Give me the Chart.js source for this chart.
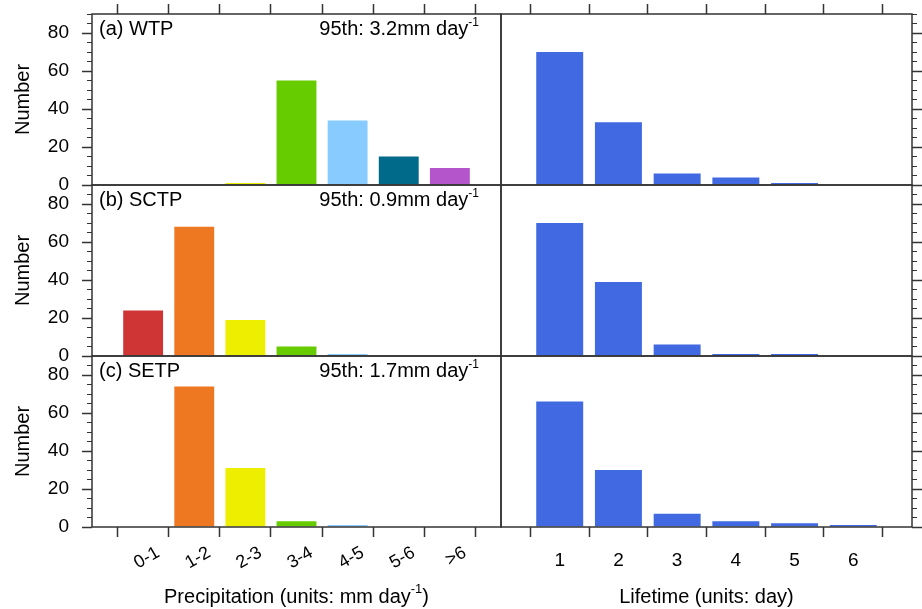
<!DOCTYPE html>
<html>
<head>
<meta charset="utf-8">
<title>Precipitation and lifetime</title>
<script src="https://cdn.jsdelivr.net/npm/chart.js@4.4.0/dist/chart.umd.min.js"></script>
<style>
  body { margin: 0; background: #fff; }
  #wrap { position: relative; width: 922px; height: 609px; }
  #wrap canvas { position: absolute; left: 0; top: 0; }
</style>
</head>
<body>
<div id="wrap">
  <canvas id="p00" width="922" height="609"></canvas>
  <canvas id="p01" width="922" height="609"></canvas>
  <canvas id="p10" width="922" height="609"></canvas>
  <canvas id="p11" width="922" height="609"></canvas>
  <canvas id="p20" width="922" height="609"></canvas>
  <canvas id="p21" width="922" height="609"></canvas>
</div>
<script>
// categories
const precipCats = ['0-1', '1-2', '2-3', '3-4', '4-5', '5-6', '>6'];
const lifeCats = ['1', '2', '3', '4', '5', '6'];
const regions = ['(a) WTP', '(b) SCTP', '(c) SETP'];
const p95 = ['3.2', '0.9', '1.7'];

// counts per precipitation class
const wtpPrecip = [0, 0, 1, 55, 34, 15, 9];
const sctpPrecip = [24, 68, 19, 5, 1, 0, 0];
const setpPrecip = [0, 74, 31, 3, 1, 0, 0];

// counts per lifetime (days)
const wtpLife = [70, 33, 6, 4, 1, 0];
const sctpLife = [70, 39, 6, 1, 1, 0];
const setpLife = [66, 30, 7, 3, 2, 1];

const precipColors = ['#d03535', '#ee7722', '#eeee00', '#66cc00', '#88ccff', '#006a8a', '#b455cc'];
const lifeColor = '#4169e1';

const precipData = [wtpPrecip, sctpPrecip, setpPrecip];
const lifeData = [wtpLife, sctpLife, setpLife];

const W = 922, H = 609;
const colEdges = [92, 501, 912];
const rowEdges = [14, 185, 356, 527];
const axisColor = '#333';
const fam = '"Liberation Sans", Arial, Helvetica, sans-serif';

Chart.defaults.font.family = fam;
Chart.defaults.color = '#000';

function fixSize(size, horizontal) {
  return function (scale) {
    if (horizontal) scale.height = size; else scale.width = size;
    scale.paddingTop = 0;
    scale.paddingBottom = 0;
    scale.paddingLeft = 0;
    scale.paddingRight = 0;
  };
}

// text with a raised "-1" part
function drawRich(ctx, parts, x, y, align, size, supSize, raise) {
  let total = 0;
  parts.forEach(p => {
    ctx.font = (p.sup ? supSize : size) + 'px ' + fam;
    p.w = ctx.measureText(p.text).width;
    total += p.w;
  });
  let cx = align === 'right' ? x - total : align === 'center' ? x - total / 2 : x;
  ctx.textAlign = 'left';
  ctx.textBaseline = 'alphabetic';
  parts.forEach(p => {
    ctx.font = (p.sup ? supSize : size) + 'px ' + fam;
    ctx.fillText(p.text, cx, p.sup ? y - raise : y);
    cx += p.w;
  });
}

const framePlugin = {
  id: 'frame',
  afterDraw(chart) {
    const a = chart.chartArea, ctx = chart.ctx;
    ctx.save();
    ctx.strokeStyle = axisColor;
    ctx.lineWidth = 1.5;
    ctx.strokeRect(a.left, a.top, a.right - a.left, a.bottom - a.top);
    ctx.restore();
  }
};

function textPlugin(row, col) {
  return {
    id: 'panelText',
    afterDraw(chart) {
      const a = chart.chartArea, ctx = chart.ctx;
      ctx.save();
      ctx.fillStyle = '#000';
      if (col === 0) {
        drawRich(ctx, [{text: regions[row]}], a.left + 7, a.top + 21, 'left', 20, 12, 9);
        drawRich(ctx, [{text: '95th: ' + p95[row] + 'mm day'}, {text: '-1', sup: true}],
          a.right - 22, a.top + 21, 'right', 20, 12, 9);
      }
      if (row === 2) {
        const cx = (a.left + a.right) / 2;
        if (col === 0) {
          drawRich(ctx, [{text: 'Precipitation (units: mm day'}, {text: '-1', sup: true}, {text: ')'}],
            cx, 603, 'center', 20, 13, 10);
        } else {
          drawRich(ctx, [{text: 'Lifetime (units: day)'}], cx, 603, 'center', 20, 13, 10);
        }
      }
      ctx.restore();
    }
  };
}

function makePanel(row, col) {
  const isPrecip = col === 0;
  const cats = isPrecip ? precipCats : lifeCats;
  const vals = isPrecip ? precipData[row] : lifeData[row];
  const n = cats.length;
  const labels = [''].concat(cats, ['']);
  const data = [null].concat(vals, [null]);
  const colors = isPrecip ? [null].concat(precipColors, [null]) : lifeColor;

  const keepInner = s => { s.ticks = s.ticks.filter(t => t.value >= 1 && t.value <= n); };

  let xTicks = {display: false};
  if (row === 2) {
    xTicks = isPrecip
      ? {autoSkip: false, minRotation: 30, maxRotation: 30, labelOffset: 15, padding: 5, font: {size: 18}, color: '#000'}
      : {autoSkip: false, maxRotation: 0, padding: 12, font: {size: 19}, color: '#000'};
  }
  const xSize = row === 0 ? 10 : row === 2 ? 82 : 0;

  const side = isPrecip ? 'left' : 'right';
  const scales = {
    x: {
      type: 'category',
      offset: false,
      display: row !== 1,
      position: row === 0 ? 'top' : 'bottom',
      afterBuildTicks: keepInner,
      afterFit: fixSize(xSize, true),
      border: {display: false},
      grid: {drawOnChartArea: false, tickLength: 10, tickColor: axisColor, tickWidth: 1.5},
      ticks: xTicks
    },
    y: {
      type: 'linear', min: 0, max: 90, weight: 1,
      position: side,
      afterFit: fixSize(isPrecip ? 81 : 10, false),
      border: {display: false},
      grid: {drawOnChartArea: false, tickLength: 10, tickColor: axisColor, tickWidth: 1.5},
      ticks: {stepSize: 20, includeBounds: false, display: isPrecip, padding: 13, font: {size: 19}, color: '#000'},
      title: {display: isPrecip, text: 'Number', font: {size: 20}, color: '#000', padding: 0}
    },
    yMinor: {
      type: 'linear', min: 0, max: 90, weight: 0,
      position: side,
      afterFit: fixSize(0, false),
      border: {display: false},
      grid: {drawOnChartArea: false, tickLength: 5, tickColor: axisColor, tickWidth: 1},
      ticks: {stepSize: 5, display: false}
    }
  };

  const padding = {
    left: isPrecip ? colEdges[0] - 81 : colEdges[1],
    right: isPrecip ? W - colEdges[1] : W - colEdges[2] - 10,
    top: rowEdges[row] - (row === 0 ? xSize : 0),
    bottom: H - rowEdges[row + 1] - (row === 2 ? xSize : 0)
  };

  new Chart(document.getElementById('p' + row + col), {
    type: 'bar',
    data: {
      labels: labels,
      datasets: [{
        data: data,
        backgroundColor: colors,
        borderWidth: 0,
        categoryPercentage: 1,
        barPercentage: isPrecip ? 0.78 : 0.8,
        xAxisID: 'x',
        yAxisID: 'y'
      }]
    },
    options: {
      responsive: false,
      animation: false,
      layout: {padding: padding},
      plugins: {legend: {display: false}, tooltip: {enabled: false}, title: {display: false}},
      scales: scales
    },
    plugins: [framePlugin, textPlugin(row, col)]
  });
}

document.addEventListener('DOMContentLoaded', function () {
  for (let r = 0; r < 3; r++) {
    makePanel(r, 0);
    makePanel(r, 1);
  }
});
</script>
</body>
</html>
